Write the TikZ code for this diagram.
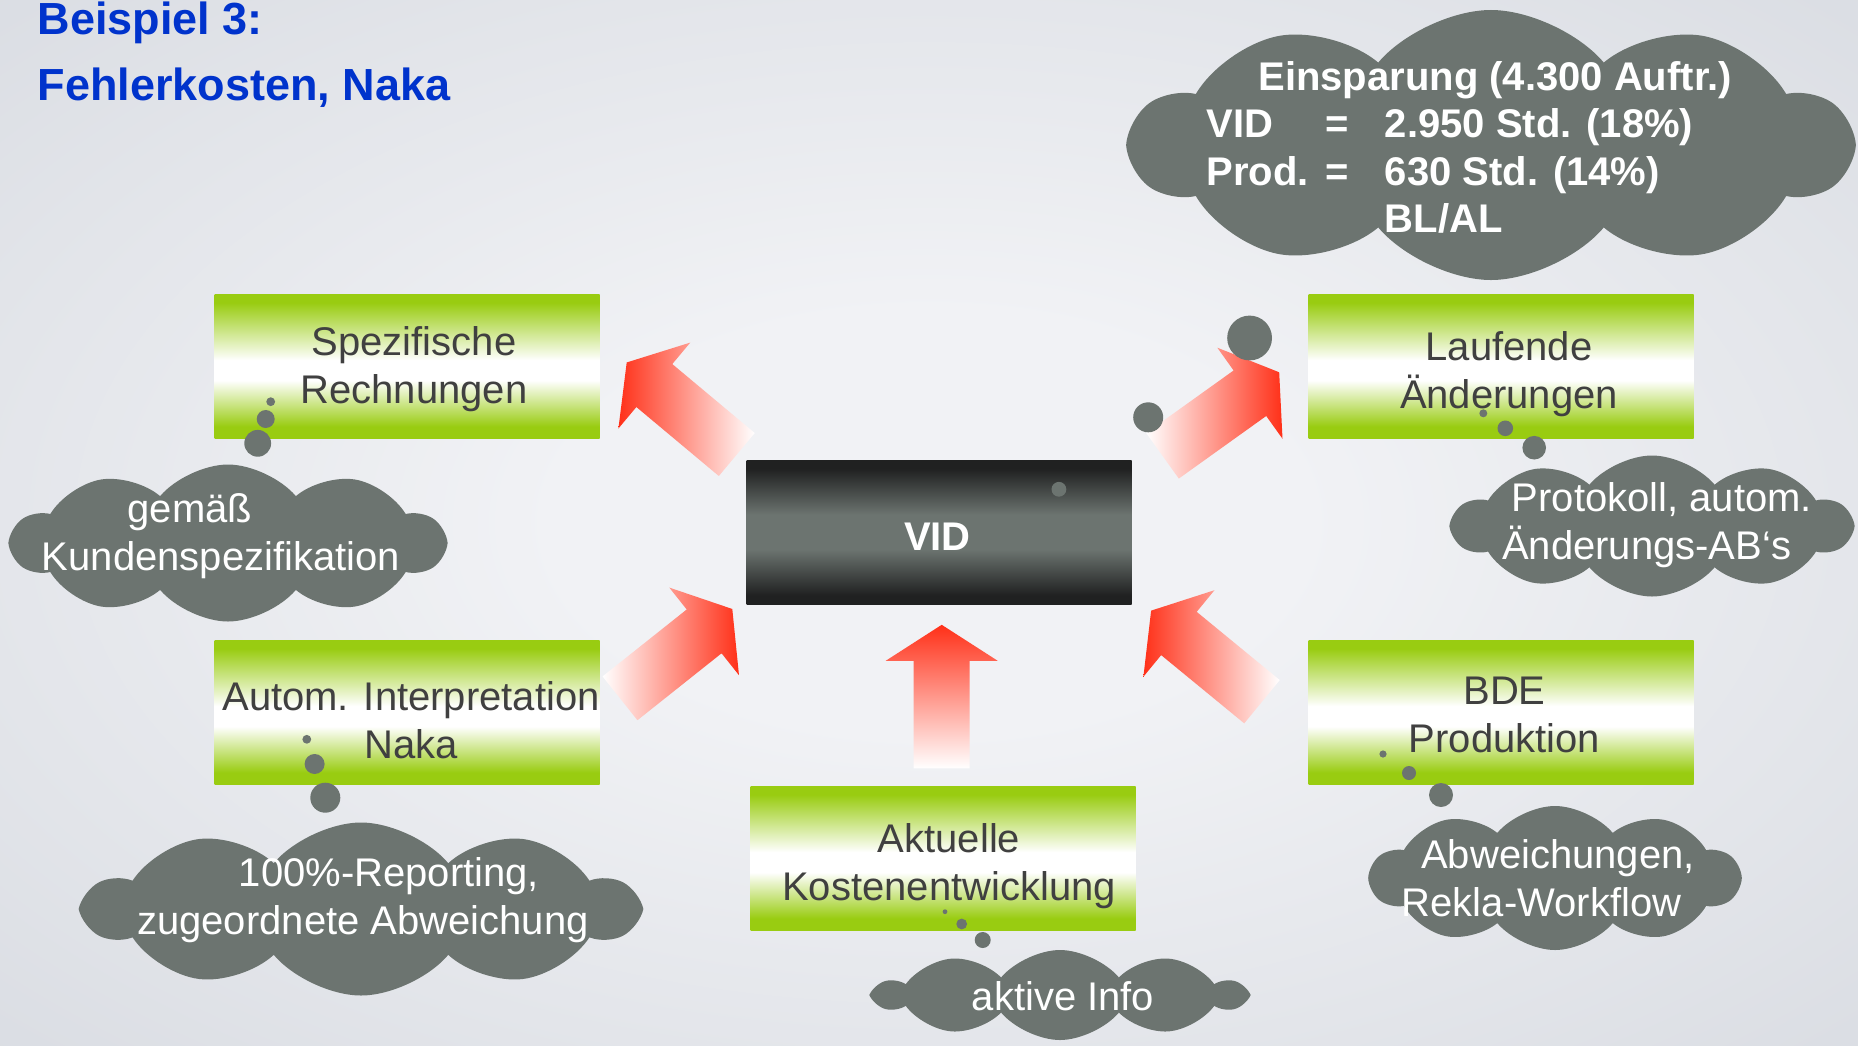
\documentclass[tikz,border=0pt]{standalone}
\usepackage{fontspec}
\setmainfont{Liberation Sans}
\usetikzlibrary{shapes.symbols}

\definecolor{titleblue}{RGB}{0,51,204}
\definecolor{boxgreen}{RGB}{153,204,17}
\definecolor{boxtext}{RGB}{64,64,64}
\definecolor{cloudgray}{RGB}{108,116,112}
\definecolor{viddark}{RGB}{32,33,33}
\definecolor{arrowred}{RGB}{255,48,24}
\definecolor{bgin}{RGB}{241,242,245}
\definecolor{bgout}{RGB}{218,221,227}

\pgfdeclareverticalshading{greenbar}{100bp}{color(0bp)=(boxgreen); color(29bp)=(boxgreen); color(45bp)=(white); color(52bp)=(white); color(72bp)=(boxgreen); color(100bp)=(boxgreen)}
\pgfdeclareverticalshading{darkbar}{100bp}{color(0bp)=(viddark); color(28bp)=(viddark); color(44bp)=(cloudgray); color(56bp)=(cloudgray); color(72bp)=(viddark); color(100bp)=(viddark)}
\pgfdeclareradialshading{backdrop}{\pgfpoint{0bp}{0bp}}{color(0bp)=(bgin); color(10bp)=(bgin); color(36bp)=(bgout); color(50bp)=(bgout)}

\tikzset{
	infobox/.style={rectangle, shade, shading=greenbar, minimum width=192.5pt, minimum height=72pt, inner sep=0pt},
	boxlabel/.style={align=center, text=boxtext, inner sep=0pt, font=\fontsize{20}{24}\selectfont},
	thought/.style={cloud, cloud puffs=10, cloud puff arc=100, cloud ignores aspect, fill=cloudgray, inner sep=0pt},
	thoughttext/.style={align=center, text=white, inner sep=0pt, font=\fontsize{20}{24}\selectfont},
	blockarrow/.style={shade, top color=arrowred, bottom color=white, shading angle=#1},
}

\begin{document}
\begin{tikzpicture}[x=0.5pt,y=-0.5pt]
	\shade[use as bounding box, shading=backdrop] (0,0) rectangle (1858,1045);
	\node[anchor=base west, inner sep=0pt, text=titleblue, font=\fontsize{22.5}{27}\selectfont\bfseries] (title) at (37.5,34) {Beispiel 3:};
	\node[anchor=base west, inner sep=0pt, text=titleblue, font=\fontsize{22.5}{27}\selectfont\bfseries] (subtitle) at (37.5,100) {Fehlerkosten, Naka};
	\path
	(736.8,454.5) coordinate (tailA)
	(1162.5,455.8) coordinate (tailB)
	(620,698.3) coordinate (tailC)
	(1262,701.7) coordinate (tailD)
	(941.7,768.3) coordinate (tailE)
	;
	\foreach \t/\ang/\sh in {A/140.1/90,B/35.6/-90,C/38.5/-90,D/140.6/90,E/90/0}
	\path[blockarrow=\sh, shift={(tail\t)}, rotate=\ang] (0pt,-14pt) -- (53.75pt,-14pt) -- (53.75pt,-28pt) -- (71.75pt,0pt) -- (53.75pt,28pt) -- (53.75pt,14pt) -- (0pt,14pt) -- cycle;
	\node[infobox] (rechnung) at (407,366) {};
	\node[infobox] (aenderung) at (1501,366) {};
	\node[infobox] (interpret) at (407,712) {};
	\node[infobox] (bde) at (1501,712) {};
	\node[infobox] (kosten) at (943,858) {};
	\node[rectangle, shade, shading=darkbar, minimum width=192.5pt, minimum height=72pt, inner sep=0pt] (vid) at (939,532) {};
	\node[boxlabel] (rechnungtext) at (414,369.6) {Spezifische\\Rechnungen};
	\node[boxlabel] (aenderungtext) at (1509,373.8) {Laufende\\Änderungen};
	\node[boxlabel] (interprettext) at (411,720.5) {Autom. Interpretation\\Naka};
	\node[boxlabel] (bdetext) at (1504.5,714.5) {BDE\\Produktion};
	\node[boxlabel] (kostentext) at (949,866) {Aktuelle\\Kostenentwicklung};
	\node[inner sep=0pt, text=white, font=\fontsize{20}{24}\selectfont\bfseries] (vidtext) at (937.5,537) {VID};
	\node[thought, minimum width=359.5pt, minimum height=135pt] (saving) at (1491,145) {};
	\node[thought, minimum width=216pt, minimum height=78.5pt] (cloudspec) at (228,543) {};
	\node[thought, minimum width=199pt, minimum height=70.5pt] (cloudlog) at (1652,526) {};
	\node[thought, minimum width=275.5pt, minimum height=86.5pt] (cloudreport) at (361,909) {};
	\node[thought, minimum width=184.5pt, minimum height=72pt] (cloudrekla) at (1555,878) {};
	\node[thought, minimum width=184pt, minimum height=45pt] (cloudinfo) at (1060,995) {};
	\node[anchor=north west, inner sep=0pt, text=white, font=\fontsize{20}{23.75}\selectfont\bfseries] (savingtext) at (1206,56.75) {\begin{tabular}{@{}p{59.5pt}@{}p{29.75pt}@{}l@{}}
			\multicolumn{3}{@{}l@{}}{\hspace*{26pt}Einsparung (4.300 Auftr.)}\\
			VID & = & 2.950 Std. (18\%)\\
			Prod. & = & 630 Std. (14\%)\\
			& & BL/AL
	\end{tabular}};
	\node[thoughttext] (notespec) at (221,536.5) {gemäß\hspace*{31pt}\\Kundenspezifikation};
	\node[thoughttext] (notelog) at (1662,525.5) {Protokoll, autom.\\Änderungs-AB‘s\hspace*{15.4pt}};
	\node[thoughttext] (notereport) at (363,900.5) {\hspace*{26pt}100\%-Reporting,\\zugeordnete Abweichung};
	\node[thoughttext] (noterekla) at (1558,878.5) {Abweichungen,\\Rekla-Workflow\hspace*{16.5pt}};
	\node[thoughttext] (noteinfo) at (1063,996) {aktive Info};
	% thought bubbles
	\foreach \cx/\cy/\r in {270.7/401.7/2.2, 265.7/419/4.5, 257.7/443.3/6.7,
		1058.9/489.3/3.7, 1148.2/417.3/7.5, 1249.6/338/11.2,
		1483.3/413.3/2, 1505.3/428.3/3.9, 1534.2/447.7/5.9,
		306.8/739.3/2.2, 314.6/764/5, 325.3/797.7/7.5,
		1383/754/1.8, 1409/773/3.5, 1441/795/6,
		945/911.7/1.2, 961.7/924/2.7, 982.7/940/4}
	\fill[cloudgray] (\cx,\cy) circle (\r pt);
\end{tikzpicture}
\end{document}
